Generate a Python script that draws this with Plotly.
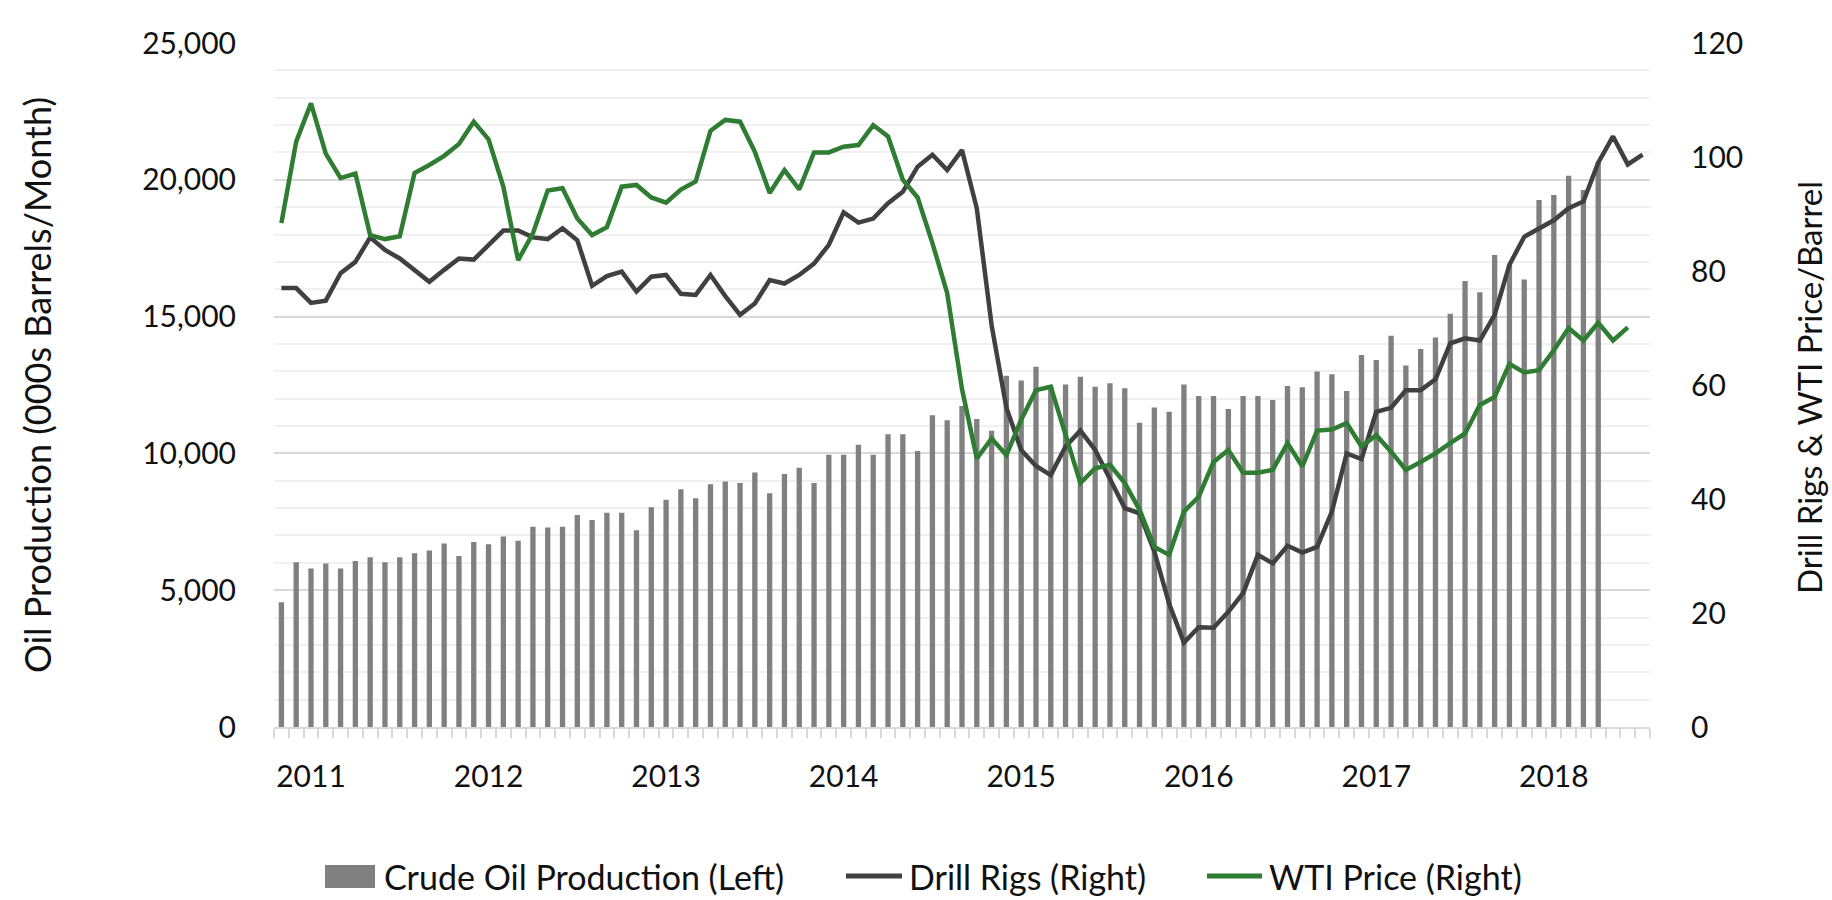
import pandas as pd
import plotly.graph_objects as go

# Monthly categories, Feb 2011 .. Oct 2018
months = [d.strftime("%b %Y") for d in pd.date_range("2011-02-01", "2018-10-01", freq="MS")]
year_labels = {"Apr 2011": "2011", "Apr 2012": "2012", "Apr 2013": "2013", "Apr 2014": "2014",
               "Apr 2015": "2015", "Apr 2016": "2016", "Apr 2017": "2017", "Apr 2018": "2018"}

# Crude oil production, 000s barrels / month (Feb 2011 .. Jul 2018)
production = [4560, 6020, 5790, 5980, 5790, 6070, 6200, 6020, 6200, 6350,
              6450, 6710, 6250, 6760, 6680, 6960, 6810, 7320, 7290, 7320,
              7750, 7570, 7830, 7830, 7190, 8030, 8310, 8690, 8360, 8870,
              8970, 8920, 9300, 8540, 9250, 9480, 8920, 9950, 9950, 10320,
              9950, 10700, 10700, 10090, 11390, 11210, 11730, 11260, 10830, 12840,
              12660, 13170, 12450, 12520, 12800, 12440, 12560, 12380, 11120, 11680,
              11520, 12520, 12100, 12100, 11620, 12100, 12100, 11950, 12460, 12420,
              12990, 12890, 12280, 13600, 13410, 14300, 13210, 13820, 14240, 15100,
              16300, 15890, 17250, 16900, 16360, 19260, 19440, 20150, 19630, 20650]

# Drill rigs (Feb 2011 .. Oct 2018)
rigs = [77.0, 77.0, 74.4, 74.8, 79.6, 81.6, 85.9, 83.7, 82.2, 80.2,
        78.1, 80.2, 82.2, 82.0, 84.6, 87.1, 87.1, 85.9, 85.6, 87.5,
        85.4, 77.4, 79.1, 79.9, 76.4, 79.0, 79.3, 76.0, 75.8, 79.3,
        75.6, 72.3, 74.3, 78.4, 77.8, 79.3, 81.3, 84.6, 90.3, 88.5,
        89.2, 91.9, 93.9, 98.3, 100.4, 97.7, 101.2, 91.0, 70.5, 56.0,
        48.6, 45.8, 44.2, 49.2, 52.0, 48.6, 43.5, 38.4, 37.5, 30.8,
        21.6, 14.8, 17.5, 17.4, 20.2, 23.5, 30.2, 28.7, 31.8, 30.6,
        31.6, 37.8, 48.0, 47.0, 55.3, 56.0, 59.1, 59.1, 61.0, 67.3,
        68.2, 67.8, 72.3, 81.1, 86.0, 87.5, 88.9, 91.0, 92.2, 99.0,
        103.6, 98.7, 100.4]

# WTI price, $/barrel (Feb 2011 .. Sep 2018)
wti = [88.4, 102.7, 109.4, 100.6, 96.3, 97.1, 86.3, 85.6, 86.1, 97.2,
       98.6, 100.2, 102.3, 106.2, 103.1, 94.8, 81.9, 86.6, 94.1, 94.5,
       89.2, 86.3, 87.7, 94.8, 95.1, 92.9, 92.0, 94.3, 95.7, 104.6,
       106.5, 106.2, 100.9, 93.7, 97.7, 94.3, 100.8, 100.8, 101.8, 102.1,
       105.6, 103.6, 96.0, 92.9, 84.9, 76.1, 59.3, 47.1, 50.6, 47.7,
       53.9, 59.1, 59.7, 51.0, 42.8, 45.4, 46.0, 42.8, 38.1, 31.6,
       30.2, 37.8, 40.4, 46.5, 48.6, 44.6, 44.6, 45.1, 49.8, 45.7,
       52.0, 52.2, 53.3, 49.2, 51.2, 48.3, 45.1, 46.5, 48.0, 49.8,
       51.5, 56.5, 57.9, 63.7, 62.2, 62.6, 66.1, 70.0, 67.8, 70.9,
       67.8, 70.1]

left_ticks = [0, 5000, 10000, 15000, 20000, 25000]
right_ticks = [0, 20, 40, 60, 80, 100, 120]

names = ["Crude Oil Production (Left)", "Drill Rigs (Right)", "WTI Price (Right)"]
BAR_C, RIG_C, WTI_C = "#808080", "#404040", "#2f7d32"
FONT = "Lato"
TXT = "#111111"

W, H = 1832, 900
L, R, T, B = 274, 182, 43, 173
PW, PH = W - L - R, H - T - B


def px(x):
    return (x - L) / PW


def py(y):
    return (H - B - y) / PH


fig = go.Figure()
fig.add_trace(go.Bar(x=months[:len(production)], y=production, name=names[0],
                     marker=dict(color=BAR_C, line=dict(width=0)), width=0.36,
                     showlegend=False))
fig.add_trace(go.Scatter(x=months[:len(rigs)], y=rigs, name=names[1], yaxis="y2",
                         mode="lines", line=dict(color=RIG_C, width=4.5),
                         showlegend=False))
fig.add_trace(go.Scatter(x=months[:len(wti)], y=wti, name=names[2], yaxis="y2",
                         mode="lines", line=dict(color=WTI_C, width=4.5),
                         showlegend=False))

fig.update_layout(
    width=W, height=H,
    margin=dict(l=L, r=R, t=T, b=B, autoexpand=False),
    paper_bgcolor="white", plot_bgcolor="white",
    font=dict(family=FONT, color=TXT),
    bargap=0.6,
    xaxis=dict(type="category", categoryorder="array", categoryarray=months,
               range=[-0.5, len(months) - 0.5],
               tickmode="array", tickvals=months,
               ticktext=[year_labels.get(m, "") for m in months],
               tickson="boundaries", ticks="outside", ticklen=9,
               tickcolor="#d9d9d9", tickwidth=1.5,
               showline=True, linecolor="#d9d9d9", linewidth=1.5,
               showgrid=False, tickangle=0,
               tickfont=dict(size=30, color=TXT), ticklabelstandoff=22),
    yaxis=dict(range=[0, 25000], tickmode="array", tickvals=left_ticks,
               tickformat=",", showline=False, zeroline=False,
               gridcolor="#d9d9d9", gridwidth=1.5,
               minor=dict(dtick=1000, tick0=0, showgrid=True, gridcolor="#f0f0f0", gridwidth=1.5),
               tickfont=dict(size=30, color=TXT), ticklabelstandoff=37),
    yaxis2=dict(range=[0, 120], overlaying="y", side="right", tickmode="array",
                tickvals=right_ticks, showgrid=False, zeroline=False, showline=False,
                tickfont=dict(size=30, color=TXT), ticklabelstandoff=40),
)

# axis titles
fig.add_annotation(text="Oil Production (000s Barrels/Month)", xref="paper", yref="paper",
                   x=px(37), y=py(385), textangle=-90, showarrow=False,
                   font=dict(size=36, family=FONT, color=TXT), xanchor="center", yanchor="middle")
fig.add_annotation(text="Drill Rigs & WTI Price/Barrel", xref="paper", yref="paper",
                   x=px(1809), y=py(388), textangle=-90, showarrow=False,
                   font=dict(size=33, family=FONT, color=TXT), xanchor="center", yanchor="middle")

# legend (drawn)
LEG_Y = 876
fig.add_shape(type="rect", xref="paper", yref="paper", x0=px(325), x1=px(375),
              y0=py(865), y1=py(888), fillcolor=BAR_C, line=dict(width=0))
fig.add_shape(type="line", xref="paper", yref="paper", x0=px(846), x1=px(902),
              y0=py(LEG_Y), y1=py(LEG_Y), line=dict(color=RIG_C, width=5))
fig.add_shape(type="line", xref="paper", yref="paper", x0=px(1207), x1=px(1262),
              y0=py(LEG_Y), y1=py(LEG_Y), line=dict(color=WTI_C, width=5))
for name, x0 in zip(names, [382, 907, 1267]):
    fig.add_annotation(text=name, xref="paper", yref="paper", x=px(x0), y=py(LEG_Y),
                       xanchor="left", yanchor="middle", showarrow=False,
                       font=dict(size=34, family=FONT, color=TXT))

fig.write_html("out.html", config={"displayModeBar": False},
               post_script="document.body.style.margin='0';document.body.style.overflow='hidden';")
